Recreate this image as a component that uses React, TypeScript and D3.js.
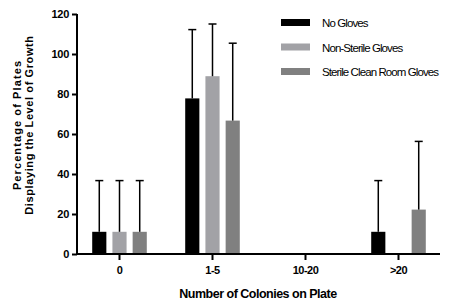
import { useEffect, useRef } from "react";
import * as d3 from "d3";

const categories = ["0", "1-5", "10-20", ">20"];
const seriesNames = ["No Gloves", "Non-Sterile Gloves", "Sterile Clean Room Gloves"];
const seriesColors = ["#000000", "#a2a2a6", "#808080"];
// mean per category, one array per series
const noGloves = [11.1, 77.8, 0, 11.1];
const nonSterile = [11.1, 88.9, 0, 0];
const sterile = [11.1, 66.7, 0, 22.2];
// upper error bar end (mean + sd)
const noGlovesErr = [36.7, 112.2, null, 36.7];
const nonSterileErr = [36.7, 115, null, null];
const sterileErr = [36.7, 105.4, null, 56.3];
const yTicks = [0, 20, 40, 60, 80, 100, 120];

export default function App() {
  const ref = useRef<SVGSVGElement>(null);

  useEffect(() => {
    if (!ref.current) return;
    document.body.style.margin = "0";
    const w = 476,
      h = 306,
      margin = { top: 14, right: 36, bottom: 52, left: 77 };
    const svg = d3.select(ref.current);
    svg.selectAll("*").remove();
    svg.attr("width", w).attr("height", h).style("display", "block");

    const values = [noGloves, nonSterile, sterile];
    const errs = [noGlovesErr, nonSterileErr, sterileErr];

    const x = d3.scaleBand().domain(categories).range([73, 445]).paddingInner(0).paddingOuter(0);
    const xs = d3.scaleBand().domain(seriesNames).range([0, x.bandwidth()]).paddingInner(0.3).paddingOuter(0.95);
    const y = d3.scaleLinear().domain([0, 120]).range([h - margin.bottom, margin.top]);

    const font = "'Liberation Sans', Arial, sans-serif";

    // bars
    values.forEach((vals, si) => {
      svg
        .append("g")
        .selectAll("rect")
        .data(vals.map((v, i) => ({ v, c: categories[i] })).filter((d) => d.v > 0))
        .join("rect")
        .attr("x", (d) => x(d.c)! + xs(seriesNames[si])!)
        .attr("width", xs.bandwidth())
        .attr("y", (d) => y(d.v))
        .attr("height", (d) => y(0) - y(d.v))
        .attr("fill", seriesColors[si]);
    });

    // error bars (upper only)
    errs.forEach((es, si) => {
      const g = svg.append("g").attr("stroke", "#000").attr("stroke-width", 1.5);
      es.forEach((e, i) => {
        if (e == null) return;
        const cx = x(categories[i])! + xs(seriesNames[si])! + xs.bandwidth() / 2;
        g.append("line").attr("x1", cx).attr("x2", cx).attr("y1", y(values[si][i])).attr("y2", y(e));
        g.append("line").attr("x1", cx - 4).attr("x2", cx + 4).attr("y1", y(e)).attr("y2", y(e));
      });
    });

    // y axis
    const ya = svg
      .append("g")
      .attr("transform", `translate(${margin.left},0)`)
      .call(d3.axisLeft(y).tickValues(yTicks).tickSize(5).tickPadding(3));
    ya.select(".domain").attr("stroke-width", 2).attr("d", `M0,${y(0)}V${y(120)}`);
    ya.selectAll(".tick line").attr("stroke-width", 2);
    ya.selectAll(".tick text")
      .attr("font-family", font)
      .attr("font-weight", "bold")
      .attr("font-size", 11)
      .attr("letter-spacing", -0.3)
      .attr("fill", "#000");

    // x axis
    const xa = svg
      .append("g")
      .attr("transform", `translate(0,${y(0)})`)
      .call(d3.axisBottom(x).tickSize(6).tickPadding(6));
    xa.select(".domain").attr("stroke-width", 2).attr("d", `M${margin.left - 1},0H440`);
    xa.selectAll(".tick line").attr("stroke-width", 2);
    xa.selectAll(".tick text")
      .attr("font-family", font)
      .attr("font-weight", "bold")
      .attr("font-size", 11)
      .attr("letter-spacing", -0.5)
      .attr("fill", "#000");

    // axis titles
    svg
      .append("text")
      .attr("x", 258)
      .attr("y", 298)
      .attr("text-anchor", "middle")
      .attr("font-family", font)
      .attr("font-weight", "bold")
      .attr("font-size", 12.5)
      .attr("letter-spacing", -0.5)
      .text("Number of Colonies on Plate");

    const yl = svg
      .append("text")
      .attr("transform", "translate(0,125) rotate(-90)")
      .attr("text-anchor", "middle")
      .attr("font-family", font)
      .attr("font-weight", "bold")
      .attr("font-size", 11);
    yl.append("tspan").attr("x", 0).attr("y", 21).attr("letter-spacing", 1.1).text("Percentage of Plates");
    yl.append("tspan").attr("x", 0).attr("y", 33).attr("letter-spacing", 0.6).text("Displaying the Level of Growth");

    // legend
    const lg = svg.append("g").attr("transform", "translate(281,19)");
    seriesNames.forEach((n, i) => {
      lg.append("rect").attr("x", 0).attr("y", i * 24.5).attr("width", 29).attr("height", 7).attr("fill", seriesColors[i]);
      lg.append("text")
        .attr("x", 41)
        .attr("y", i * 24.5 + 8)
        .attr("font-family", font)
        .attr("font-size", 11.5)
        .attr("letter-spacing", -0.9)
        .text(n);
    });
  }, []);

  return <svg ref={ref} />;
}
